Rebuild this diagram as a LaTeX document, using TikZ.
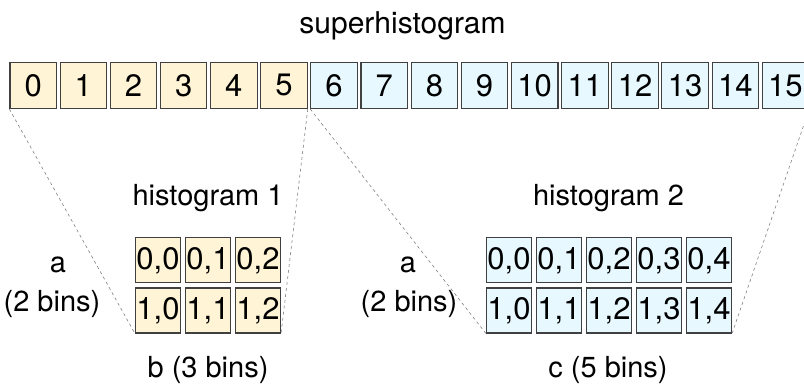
\documentclass[tikz,border=0pt]{standalone}
\usepackage{fontspec}
\setmainfont{TeX Gyre Heros}
\definecolor{cream}{HTML}{FFF5D6}
\definecolor{skyfill}{HTML}{E8F8FF}
\definecolor{edgegray}{HTML}{404040}
\begin{document}
\begin{tikzpicture}[x=1pt,y=-1pt,
  bin/.style={draw=edgegray,line width=1.1pt,minimum width=46.5pt,minimum height=46.5pt,inner sep=0pt,font=\fontsize{31}{34}\selectfont},
  ybin/.style={bin,fill=cream},
  bbin/.style={bin,fill=skyfill},
  cell/.style={draw=edgegray,line width=1.1pt,minimum width=45pt,minimum height=45pt,inner sep=0pt,font=\fontsize{31}{34}\selectfont},
  ycell/.style={cell,fill=cream},
  bcell/.style={cell,fill=skyfill},
  lbl/.style={anchor=base,inner sep=0pt,font=\fontsize{29}{32}\selectfont},
  guide/.style={draw=gray,line width=0.6pt,dash pattern=on 3pt off 3pt}]
\useasboundingbox (0,0) rectangle (804,384);
% superhistogram bins
\foreach \i in {0,...,5}{
  \node[ybin] (s\i) at ({33.2+50.15*\i},85.3) {\i};
}
\foreach \i in {6,...,15}{
  \node[bbin] (s\i) at ({33.2+50.15*\i},85.3) {\i};
}
\node[lbl,font=\fontsize{30}{33}\selectfont] (title) at (402.5,33.3) {superhistogram};
% histogram 1
\foreach \r in {0,1}{
  \foreach \c in {0,1,2}{
    \node[ycell] (h1-\r-\c) at ({158+50*\c},{260.3+50.2*\r}) {\r,\c};
  }
}
% histogram 2
\foreach \r in {0,1}{
  \foreach \c in {0,...,4}{
    \node[bcell] (h2-\r-\c) at ({509+50*\c},{260.3+50.2*\r}) {\r,\c};
  }
}
\node[lbl] (t1) at (208,205) {histogram 1};
\node[lbl] (t2) at (608.5,205) {histogram 2};
\node[lbl] (a1) at (58,272.5) {a};
\node[lbl] (a1b) at (52,311.5) {(2 bins)};
\node[lbl] (a2) at (408,272.5) {a};
\node[lbl] (a2b) at (409,311.5) {(2 bins)};
\node[lbl] (b1) at (208,377) {b (3 bins)};
\node[lbl] (c2) at (608,377) {c (5 bins)};
% guide lines
\draw[guide] (s0.south west) -- (h1-1-0.south west);
\draw[guide] (s5.south east) -- (h1-1-2.south east);
\draw[guide] (s6.south west) -- (h2-1-0.south west);
\draw[guide] (s15.south east) -- (h2-1-4.south east);
\end{tikzpicture}
\end{document}
